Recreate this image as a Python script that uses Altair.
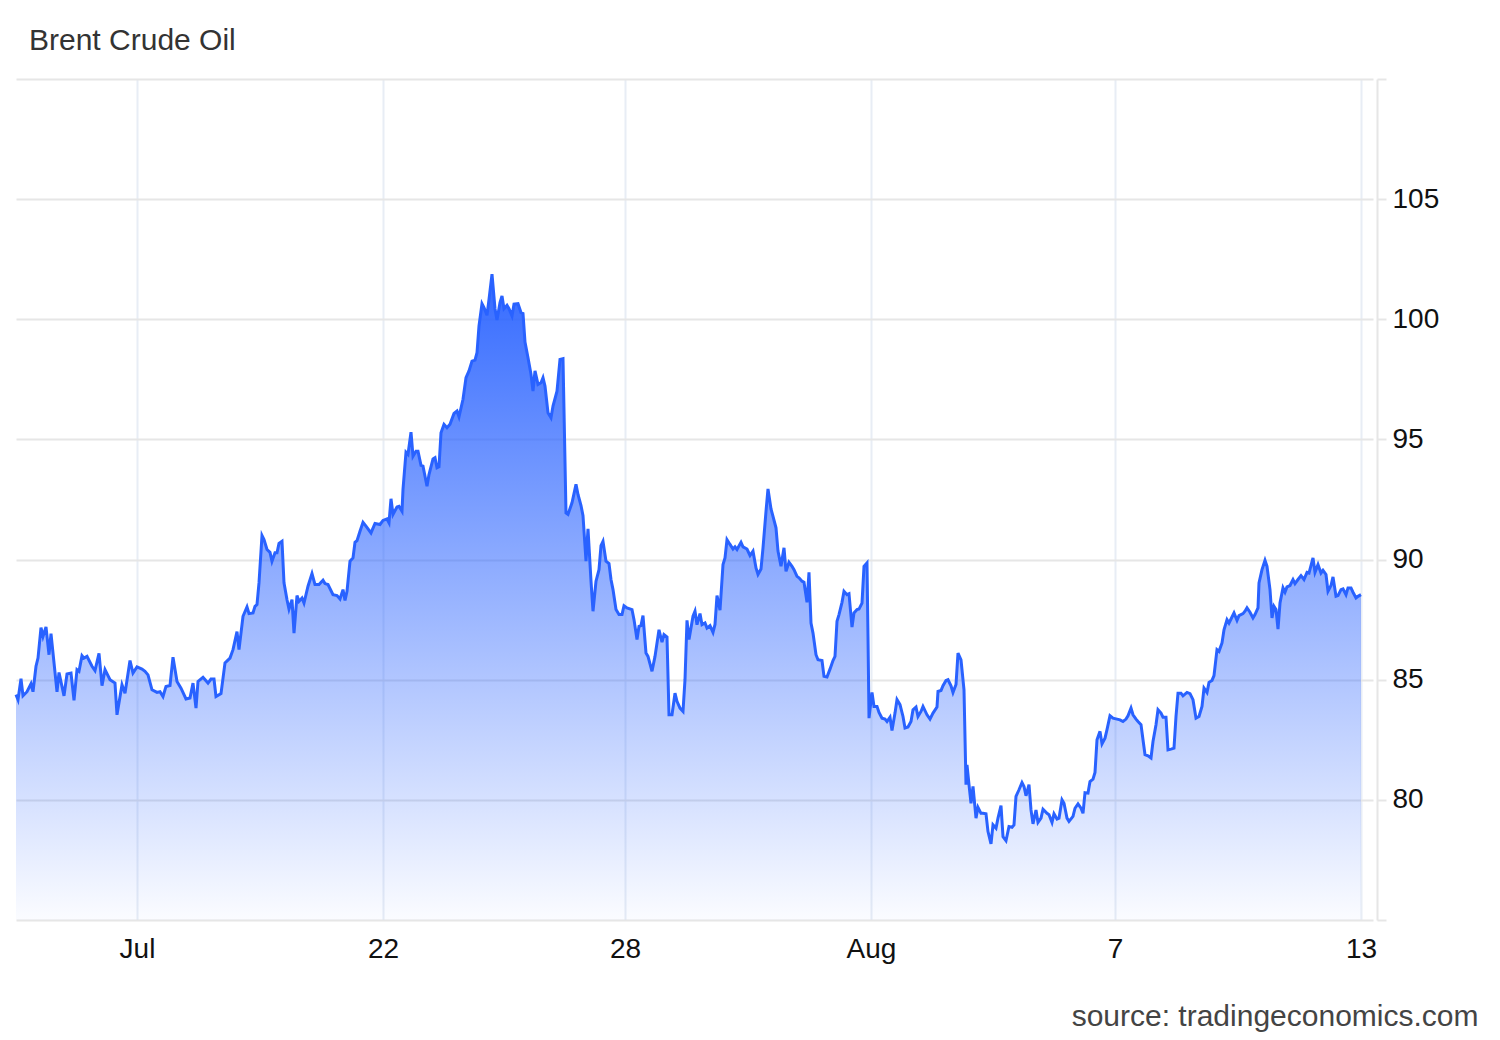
import altair as alt
import pandas as pd

# observation step index (time order) and Brent price readings
step = [
    0, 2, 5, 7, 11, 15, 17, 20, 22, 25,
    27, 30, 33, 35, 41, 43, 48, 51, 55, 58,
    61, 63, 66, 68, 71, 76, 79, 83, 86, 89,
    94, 99, 101, 106, 109, 114, 117, 121, 126, 129,
    132, 136, 141, 144, 147, 150, 154, 157, 161, 165,
    170, 174, 177, 180, 182, 187, 192, 195, 198, 200,
    205, 209, 214, 217, 221, 223, 227, 231, 233, 237,
    239, 241, 243, 246, 248, 251, 254, 256, 259, 261,
    263, 266, 268, 271, 273, 276, 278, 281, 283, 286,
    288, 292, 296, 299, 303, 307, 309, 312, 317, 321,
    324, 327, 329, 331, 334, 337, 339, 341, 344, 347,
    350, 355, 359, 364, 367, 371, 373, 375, 377, 381,
    383, 386, 387, 390, 392, 395, 397, 400, 402, 405,
    407, 411, 413, 417, 419, 421, 423, 425, 428, 431,
    434, 438, 441, 443, 447, 450, 453, 456, 459, 461,
    463, 466, 468, 471, 473, 476, 479, 481, 484, 486,
    488, 491, 493, 496, 498, 502, 505, 507, 509, 512,
    515, 517, 519, 522, 525, 527, 529, 532, 535, 537,
    541, 544, 547, 550, 552, 556, 560, 562, 565, 567,
    570, 572, 575, 577, 580, 583, 585, 587, 590, 593,
    595, 597, 600, 603, 606, 608, 611, 616, 618, 621,
    623, 625, 627, 630, 632, 636, 639, 643, 646, 648,
    651, 653, 656, 659, 661, 664, 667, 669, 671, 673,
    677, 679, 681, 684, 686, 689, 691, 694, 697, 699,
    701, 704, 707, 709, 711, 714, 717, 719, 721, 725,
    727, 731, 734, 737, 740, 742, 745, 747, 750, 752,
    755, 757, 760, 762, 765, 768, 770, 773, 776, 778,
    781, 783, 786, 788, 791, 793, 795, 797, 800, 802,
    806, 808, 811, 814, 817, 819, 821, 823, 826, 828,
    831, 833, 836, 838, 841, 843, 846, 848, 851, 852,
    853, 856, 858, 861, 863, 866, 869, 871, 874, 876,
    879, 881, 884, 887, 889, 892, 895, 897, 900, 902,
    905, 907, 911, 914, 917, 921, 922, 925, 927, 930,
    932, 935, 937, 940, 942, 945, 948, 950, 951, 953,
    955, 957, 960, 962, 965, 967, 970, 972, 975, 977,
    980, 982, 985, 987, 990, 993, 996, 998, 1000, 1003,
    1006, 1008, 1010, 1013, 1015, 1017, 1020, 1022, 1025, 1027,
    1031, 1033, 1036, 1038, 1041, 1043, 1046, 1048, 1051, 1053,
    1057, 1059, 1062, 1065, 1067, 1069, 1072, 1074, 1077, 1079,
    1081, 1084, 1086, 1089, 1091, 1094, 1097, 1101, 1104, 1107,
    1110, 1112, 1115, 1117, 1120, 1122, 1125, 1127, 1129, 1132,
    1135, 1137, 1140, 1142, 1145, 1147, 1150, 1152, 1155, 1158,
    1160, 1162, 1165, 1167, 1171, 1174, 1177, 1180, 1183, 1186,
    1188, 1191, 1193, 1196, 1198, 1201, 1203, 1206, 1208, 1211,
    1213, 1216, 1218, 1221, 1223, 1227, 1229, 1231, 1234, 1237,
    1239, 1242, 1243, 1246, 1249, 1251, 1254, 1256, 1258, 1260,
    1262, 1264, 1267, 1269, 1271, 1274, 1277, 1279, 1282, 1285,
    1288, 1291, 1293, 1297, 1299, 1302, 1305, 1307, 1310, 1312,
    1315, 1317, 1320, 1322, 1325, 1327, 1330, 1332, 1335, 1337,
    1340, 1342, 1345,
]

brent = [
    84.38, 84.17, 85.04, 84.33, 84.5, 84.83, 84.5, 85.56, 85.9, 87.17,
    86.8, 87.2, 86.04, 86.92, 84.5, 85.3, 84.33, 85.24, 85.28, 84.14,
    85.42, 85.35, 86.0, 85.9, 85.97, 85.56, 85.38, 86.1, 84.75, 85.42,
    85.0, 84.86, 83.54, 84.79, 84.44, 85.8, 85.28, 85.53, 85.44, 85.35,
    85.2, 84.58, 84.47, 84.5, 84.3, 84.72, 84.76, 85.94, 84.93, 84.65,
    84.2, 84.24, 84.86, 83.82, 84.93, 85.1, 84.86, 85.03, 85.03, 84.3,
    84.42, 85.7, 85.9, 86.25, 87.0, 86.25, 87.64, 88.03, 87.75, 87.78,
    88.05, 88.13, 89.03, 91.0, 90.83, 90.42, 90.3, 89.93, 90.28, 90.28,
    90.67, 90.76, 89.03, 88.33, 87.94, 88.33, 86.94, 88.5, 88.26, 88.4,
    88.19, 88.89, 89.42, 88.96, 88.96, 89.14, 89.0, 88.96, 88.54, 88.5,
    88.36, 88.75, 88.3, 88.68, 89.93, 90.07, 90.72, 90.79, 91.18, 91.55,
    91.39, 91.11, 91.5, 91.46, 91.63, 91.69, 91.53, 92.53, 91.88, 92.19,
    92.22, 92.01, 92.92, 94.47, 94.38, 95.3, 94.3, 94.51, 94.51, 93.92,
    93.89, 93.05, 93.54, 94.19, 94.24, 93.82, 93.86, 95.28, 95.63, 95.49,
    95.63, 96.08, 96.18, 95.94, 96.67, 97.57, 97.85, 98.26, 98.3, 98.61,
    99.72, 100.65, 100.49, 100.17, 100.83, 101.88, 100.44, 99.97, 100.69, 100.97,
    100.44, 100.58, 100.44, 100.14, 100.63, 100.65, 100.28, 100.24, 99.05, 98.4,
    97.71, 97.01, 97.85, 97.29, 97.36, 97.57, 97.22, 96.11, 95.9, 96.39,
    97.01, 98.33, 98.36, 91.94, 91.88, 92.36, 93.13, 92.71, 92.25, 91.83,
    89.93, 91.28, 89.1, 87.85, 89.1, 89.58, 90.58, 90.76, 89.93, 89.83,
    89.17, 88.75, 87.92, 87.71, 87.71, 88.08, 87.99, 87.92, 87.5, 86.67,
    87.22, 87.25, 87.67, 86.11, 85.97, 85.35, 85.97, 87.08, 86.56, 86.88,
    86.78, 83.54, 83.54, 84.44, 84.1, 83.82, 83.68, 85.0, 87.47, 86.67,
    87.64, 87.85, 87.29, 87.75, 87.29, 87.36, 87.15, 87.25, 86.97, 87.3,
    88.5, 87.89, 89.79, 90.07, 90.83, 90.63, 90.44, 90.53, 90.42, 90.72,
    90.53, 90.44, 90.17, 90.35, 89.65, 89.38, 89.61, 90.49, 92.01, 92.94,
    92.11, 91.8, 91.32, 90.35, 89.72, 90.49, 89.51, 89.89, 89.72, 89.58,
    89.3, 89.24, 89.1, 89.06, 88.22, 89.47, 87.36, 86.94, 86.04, 85.83,
    85.8, 85.14, 85.11, 85.44, 85.8, 85.97, 87.43, 87.71, 88.22, 88.68,
    88.54, 88.58, 87.19, 87.78, 87.92, 87.94, 88.19, 89.72, 89.86, 86.8,
    83.4, 84.47, 83.89, 83.89, 83.64, 83.4, 83.36, 83.26, 83.44, 82.89,
    83.61, 84.17, 83.96, 83.47, 82.99, 83.03, 83.26, 83.75, 83.86, 83.47,
    83.68, 83.89, 83.54, 83.36, 83.61, 83.86, 84.51, 84.55, 84.75, 84.97,
    85.0, 84.75, 84.47, 84.8, 86.11, 85.83, 84.58, 80.63, 81.46, 80.63,
    79.86, 80.56, 79.24, 79.69, 79.44, 79.44, 79.42, 78.68, 78.17, 78.96,
    78.82, 79.24, 79.76, 78.47, 78.3, 78.89, 78.86, 78.96, 80.14, 80.42,
    80.72, 80.56, 80.17, 80.63, 79.58, 79.0, 79.58, 79.06, 79.24, 79.61,
    79.44, 79.38, 79.06, 79.42, 79.2, 79.24, 80.0, 79.86, 79.24, 79.1,
    79.31, 79.65, 79.83, 79.65, 79.44, 80.3, 80.28, 80.76, 80.86, 81.14,
    82.5, 82.85, 82.33, 82.57, 82.92, 83.5, 83.4, 83.36, 83.33, 83.26,
    83.36, 83.5, 83.82, 83.54, 83.36, 83.26, 83.13, 82.5, 81.88, 81.83,
    81.74, 82.43, 83.13, 83.75, 83.61, 83.44, 83.44, 82.08, 82.11, 82.15,
    83.47, 84.44, 84.44, 84.33, 84.47, 84.42, 84.17, 83.4, 83.47, 83.89,
    84.65, 84.47, 84.89, 84.97, 85.17, 86.25, 86.18, 86.53, 87.08, 87.5,
    87.36, 87.61, 87.78, 87.47, 87.67, 87.75, 87.85, 87.99, 87.81, 87.57,
    87.71, 87.99, 89.03, 89.58, 89.97, 89.72, 88.75, 87.57, 88.05, 87.92,
    87.11, 88.19, 88.82, 88.64, 88.86, 88.92, 89.17, 89.0, 89.17, 89.33,
    89.17, 89.47, 89.44, 90.07, 89.47, 89.79, 89.44, 89.55, 89.38, 88.68,
    88.92, 89.28, 88.47, 88.5, 88.75, 88.78, 88.54, 88.82, 88.82, 88.64,
    88.4, 88.47, 88.54,
]

# x-axis tick positions (in step units) and their labels
tick_steps = [121, 367, 609, 855, 1099, 1345]
tick_labels = ["Jul", "22", "28", "Aug", "7", "13"]

# y-axis ticks
y_ticks = [75, 80, 85, 90, 95, 100, 105, 110]
y_labelled = [80, 85, 90, 95, 100, 105]

chart_title = ["Brent Crude Oil"]
source_note = "source: tradingeconomics.com"

n = min(len(step), len(brent))
df = pd.DataFrame({"step": step[:n], "price": brent[:n]})

FONT = "Liberation Sans"
LINE = "#2962ff"

label_expr = " : ".join(
    f"datum.value == {s} ? '{l}'" for s, l in zip(tick_steps, tick_labels)
) + " : ''"
y_label_expr = (
    "indexof(" + str(y_labelled) + ", datum.value) >= 0 ? datum.label : ''"
)

x_enc = alt.X(
    "step:Q",
    scale=alt.Scale(domain=[0, 1357], nice=False, zero=False),
    axis=alt.Axis(
        values=tick_steps,
        labelExpr=label_expr,
        grid=True,
        gridColor="#e8edf5",
        gridWidth=2,
        ticks=False,
        domain=False,
        labelFont=FONT,
        labelFontSize=28,
        labelColor="#111111",
        labelPadding=15,
        labelFlush=False,
        labelOverlap=False,
        title=source_note,
        titleFont=FONT,
        titleFontSize=30,
        titleFontWeight="normal",
        titleColor="#444444",
        titleAlign="right",
        titleAnchor="end",
        titleBaseline="alphabetic",
        titleX=1462,
        titleY=105,
    ),
)

y_enc = alt.Y(
    "price:Q",
    scale=alt.Scale(domain=[75, 110], nice=False, zero=False),
    axis=alt.Axis(
        orient="right",
        values=y_ticks,
        labelExpr=y_label_expr,
        offset=4,
        grid=True,
        gridColor="#e6e6e6",
        gridWidth=2,
        domainColor="#e6e6e6",
        domainWidth=2,
        tickColor="#e6e6e6",
        tickWidth=2,
        tickSize=9,
        labelFont=FONT,
        labelFontSize=28,
        labelColor="#111111",
        labelPadding=6,
        labelBaseline="middle",
        labelFlush=False,
        labelOverlap=False,
        title=None,
    ),
)

gradient = alt.Gradient(
    gradient="linear",
    stops=[
        alt.GradientStop(color="rgba(41,98,255,0.95)", offset=0),
        alt.GradientStop(color="rgba(41,98,255,0.02)", offset=1),
    ],
    x1=0, x2=0, y1=0, y2=1,
)

area = alt.Chart(df).mark_area(color=gradient).encode(
    x=x_enc, y=y_enc, y2=alt.datum(75)
)
line = alt.Chart(df).mark_line(color=LINE, strokeWidth=3).encode(
    x="step:Q", y="price:Q"
)
title_text = (
    alt.Chart(pd.DataFrame({"label": chart_title}))
    .mark_text(
        font=FONT,
        fontSize=30,
        color="#333333",
        align="left",
        baseline="alphabetic",
    )
    .encode(x=alt.value(13), y=alt.value(-29), text="label:N")
)

chart = (
    alt.layer(area, line, title_text)
    .properties(
        width=1357,
        height=841,
        autosize=alt.AutoSizeParams(type="none"),
        padding={"left": 8, "top": 71, "right": 115, "bottom": 112},
    )
    .configure_view(strokeWidth=0)
)

chart.save("out.html", embed_options={"renderer": "svg", "actions": False})
